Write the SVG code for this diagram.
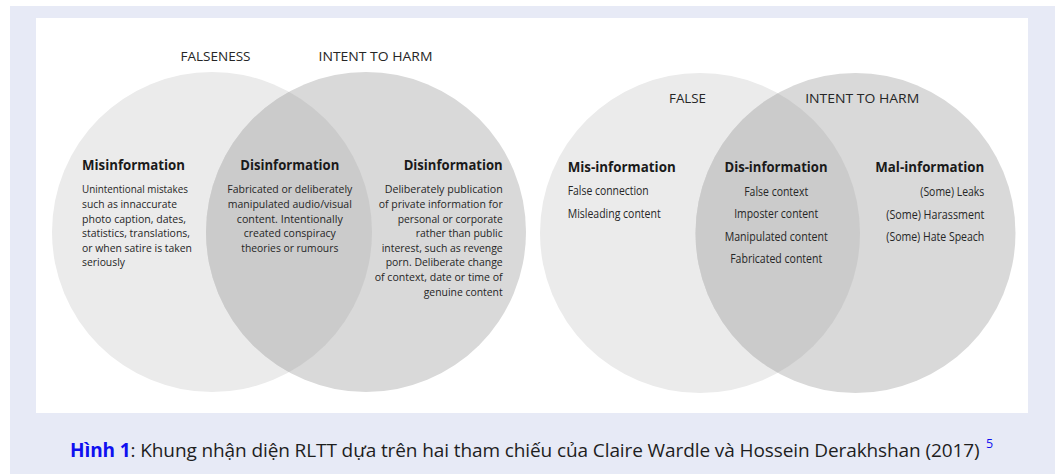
<svg xmlns="http://www.w3.org/2000/svg" width="1058" height="474" viewBox="0 0 1058 474">
  <style>
    .ttl { font-family: "Open Sans", "Noto Sans", sans-serif; font-size: 12.5px; fill: #262626; text-anchor: middle; }
    .hd { font-family: "Open Sans", "Noto Sans", sans-serif; font-size: 14px; font-weight: bold; fill: #1a1a1a; }
    .bd { font-family: "Open Sans", "Noto Sans", sans-serif; font-size: 11.5px; fill: #262626; }
    .it { font-family: "Open Sans", "Noto Sans", sans-serif; font-size: 12px; fill: #262626; }
    .l { text-anchor: start; }
    .m { text-anchor: middle; }
    .r { text-anchor: end; }
    .c1 { fill: #ebebeb; }
    .c2 { fill: #d9d9d9; }
    .c3 { fill: #cbcbcb; }
    .cap { font-family: "Open Sans", "Noto Sans", sans-serif; font-size: 19px; letter-spacing: -0.1px; fill: #1e1e1e; }
  </style>
  <defs>
    <clipPath id="clipA"><circle cx="212" cy="232" r="160"/></clipPath>
    <clipPath id="clipB"><circle cx="700" cy="233" r="160"/></clipPath>
  </defs>

  <rect x="10" y="6" width="1045" height="468" fill="#e7eaf6"/>
  <rect x="36" y="18" width="992" height="395" fill="#ffffff"/>

  <!-- Left Venn -->
  <g id="venn1">
    <g id="v1-falseness">
      <circle class="c1" cx="212" cy="232" r="160"/>
    </g>
    <g id="v1-intent">
      <circle class="c2" cx="366" cy="232" r="160"/>
    </g>
    <g id="v1-overlap">
      <circle class="c3" cx="366" cy="232" r="160" clip-path="url(#clipA)"/>
    </g>
    <text class="ttl" x="215.5" y="60.5" textLength="70" lengthAdjust="spacingAndGlyphs">FALSENESS</text>
    <text class="ttl" x="375.5" y="60.5" textLength="114" lengthAdjust="spacingAndGlyphs">INTENT TO HARM</text>

    <g id="v1-misinformation">
      <text class="hd l" x="82" y="170" textLength="103" lengthAdjust="spacingAndGlyphs">Misinformation</text>
      <text class="bd l" x="82" y="193.3" textLength="106" lengthAdjust="spacingAndGlyphs">Unintentional mistakes</text>
      <text class="bd l" x="82" y="208" textLength="95" lengthAdjust="spacingAndGlyphs">such as innaccurate</text>
      <text class="bd l" x="82" y="222.6" textLength="104" lengthAdjust="spacingAndGlyphs">photo caption, dates,</text>
      <text class="bd l" x="82" y="237.2" textLength="108" lengthAdjust="spacingAndGlyphs">statistics, translations,</text>
      <text class="bd l" x="82" y="251.8" textLength="110" lengthAdjust="spacingAndGlyphs">or when satire is taken</text>
      <text class="bd l" x="82" y="266.4" textLength="43" lengthAdjust="spacingAndGlyphs">seriously</text>
    </g>
    <g id="v1-disinformation-mid">
      <text class="hd m" x="289.8" y="170" textLength="99" lengthAdjust="spacingAndGlyphs">Disinformation</text>
      <text class="bd m" x="289.8" y="193.3" textLength="125" lengthAdjust="spacingAndGlyphs">Fabricated or deliberately</text>
      <text class="bd m" x="289.8" y="208" textLength="124" lengthAdjust="spacingAndGlyphs">manipulated audio/visual</text>
      <text class="bd m" x="289.8" y="222.6" textLength="106" lengthAdjust="spacingAndGlyphs">content. Intentionally</text>
      <text class="bd m" x="289.8" y="237.2" textLength="92" lengthAdjust="spacingAndGlyphs">created conspiracy</text>
      <text class="bd m" x="289.8" y="251.8" textLength="97" lengthAdjust="spacingAndGlyphs">theories or rumours</text>
    </g>
    <g id="v1-disinformation-right">
      <text class="hd r" x="502.7" y="170" textLength="99" lengthAdjust="spacingAndGlyphs">Disinformation</text>
      <text class="bd r" x="502.7" y="193.3" textLength="118" lengthAdjust="spacingAndGlyphs">Deliberately  publication</text>
      <text class="bd r" x="502.7" y="208" textLength="124" lengthAdjust="spacingAndGlyphs">of private information for</text>
      <text class="bd r" x="502.7" y="222.6" textLength="105" lengthAdjust="spacingAndGlyphs">personal or corporate</text>
      <text class="bd r" x="502.7" y="237.2" textLength="87" lengthAdjust="spacingAndGlyphs">rather than public</text>
      <text class="bd r" x="502.7" y="251.8" textLength="121" lengthAdjust="spacingAndGlyphs">interest, such as revenge</text>
      <text class="bd r" x="502.7" y="266.4" textLength="117" lengthAdjust="spacingAndGlyphs">porn. Deliberate change</text>
      <text class="bd r" x="502.7" y="281" textLength="128" lengthAdjust="spacingAndGlyphs">of context, date or time of</text>
      <text class="bd r" x="502.7" y="295.6" textLength="79" lengthAdjust="spacingAndGlyphs">genuine content</text>
    </g>
  </g>

  <!-- Right Venn -->
  <g id="venn2">
    <g id="v2-false">
      <circle class="c1" cx="700" cy="233" r="160"/>
    </g>
    <g id="v2-intent">
      <circle class="c2" cx="855.5" cy="233" r="160"/>
    </g>
    <g id="v2-overlap">
      <circle class="c3" cx="855.5" cy="233" r="160" clip-path="url(#clipB)"/>
    </g>
    <text class="ttl" x="687.5" y="102.7" textLength="37" lengthAdjust="spacingAndGlyphs">FALSE</text>
    <text class="ttl" x="862.2" y="102.7" textLength="114" lengthAdjust="spacingAndGlyphs">INTENT TO HARM</text>

    <g id="v2-misinformation">
      <text class="hd l" x="567.7" y="172.3" textLength="108" lengthAdjust="spacingAndGlyphs">Mis-information</text>
      <text class="it l" x="567.7" y="195" textLength="81" lengthAdjust="spacingAndGlyphs">False connection</text>
      <text class="it l" x="567.7" y="217.7" textLength="93" lengthAdjust="spacingAndGlyphs">Misleading content</text>
    </g>
    <g id="v2-disinformation">
      <text class="hd m" x="776" y="172.3" textLength="103" lengthAdjust="spacingAndGlyphs">Dis-information</text>
      <text class="it m" x="776.2" y="195.7" textLength="64" lengthAdjust="spacingAndGlyphs">False context</text>
      <text class="it m" x="776.2" y="218.3" textLength="84" lengthAdjust="spacingAndGlyphs">Imposter content</text>
      <text class="it m" x="776.2" y="240.8" textLength="103" lengthAdjust="spacingAndGlyphs">Manipulated content</text>
      <text class="it m" x="776.2" y="263" textLength="92" lengthAdjust="spacingAndGlyphs">Fabricated content</text>
    </g>
    <g id="v2-malinformation">
      <text class="hd r" x="984.3" y="172.3" textLength="109" lengthAdjust="spacingAndGlyphs">Mal-information</text>
      <text class="it r" x="984.3" y="196" textLength="64" lengthAdjust="spacingAndGlyphs">(Some) Leaks</text>
      <text class="it r" x="984.3" y="218.5" textLength="98" lengthAdjust="spacingAndGlyphs">(Some)  Harassment</text>
      <text class="it r" x="984.3" y="241" textLength="98" lengthAdjust="spacingAndGlyphs">(Some) Hate Speach</text>
    </g>
  </g>

  <g id="connectors"></g>

  <g id="caption">
    <text class="cap" x="70" y="457"><tspan fill="#1010f0" font-weight="bold">Hình 1</tspan>: Khung nhận diện RLTT dựa trên hai tham chiếu của Claire Wardle và Hossein Derakhshan (2017)</text>
    <text x="986" y="448" font-family="Open Sans, Noto Sans, sans-serif" font-size="12.5" fill="#1010f0">5</text>
  </g>
</svg>
